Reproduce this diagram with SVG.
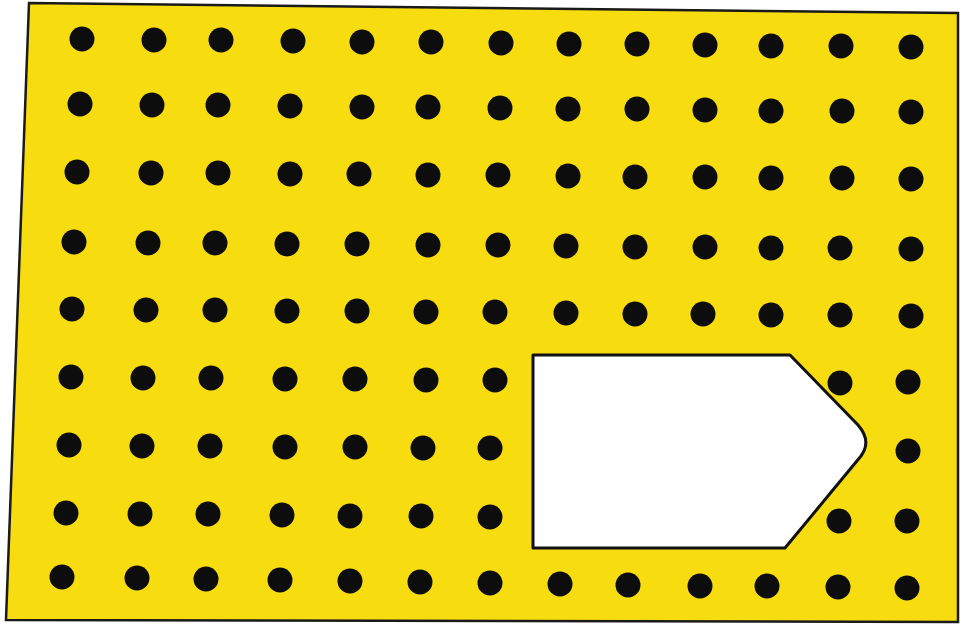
<svg xmlns="http://www.w3.org/2000/svg" width="961" height="625" viewBox="0 0 961 625">
<style>
.board{fill:#F7DD10;stroke:#1a1a1a;stroke-width:2.5}
.d{fill:#0d0d0d}
.cut{fill:#ffffff;stroke:#111;stroke-width:3;stroke-linejoin:round}
</style>
<rect width="961" height="625" fill="#ffffff"/>
<polygon class="board" points="29,3 958,13 958,622 6,620"/>
<g id="holes" class="d">
<circle cx="82" cy="39" r="12.5"/><circle cx="154" cy="40" r="12.5"/><circle cx="221" cy="40" r="12.5"/><circle cx="293" cy="41" r="12.5"/><circle cx="362" cy="42" r="12.5"/><circle cx="431" cy="42" r="12.5"/><circle cx="501" cy="43" r="12.5"/><circle cx="569" cy="44" r="12.5"/><circle cx="637" cy="44" r="12.5"/><circle cx="705" cy="45" r="12.5"/><circle cx="771" cy="46" r="12.5"/><circle cx="841" cy="46" r="12.5"/><circle cx="911" cy="47" r="12.5"/>
<circle cx="80" cy="104" r="12.5"/><circle cx="152" cy="105" r="12.5"/><circle cx="218" cy="105" r="12.5"/><circle cx="290" cy="106" r="12.5"/><circle cx="362" cy="107" r="12.5"/><circle cx="428" cy="107" r="12.5"/><circle cx="500" cy="108" r="12.5"/><circle cx="568" cy="109" r="12.5"/><circle cx="637" cy="109" r="12.5"/><circle cx="705" cy="110" r="12.5"/><circle cx="771" cy="111" r="12.5"/><circle cx="842" cy="111" r="12.5"/><circle cx="911" cy="112" r="12.5"/>
<circle cx="77" cy="172" r="12.5"/><circle cx="151" cy="173" r="12.5"/><circle cx="218" cy="173" r="12.5"/><circle cx="290" cy="174" r="12.5"/><circle cx="359" cy="174" r="12.5"/><circle cx="428" cy="175" r="12.5"/><circle cx="498" cy="175" r="12.5"/><circle cx="568" cy="176" r="12.5"/><circle cx="635" cy="177" r="12.5"/><circle cx="705" cy="177" r="12.5"/><circle cx="771" cy="178" r="12.5"/><circle cx="842" cy="178" r="12.5"/><circle cx="911" cy="179" r="12.5"/>
<circle cx="74" cy="242" r="12.5"/><circle cx="148" cy="243" r="12.5"/><circle cx="215" cy="243" r="12.5"/><circle cx="287" cy="244" r="12.5"/><circle cx="357" cy="244" r="12.5"/><circle cx="428" cy="245" r="12.5"/><circle cx="498" cy="245" r="12.5"/><circle cx="566" cy="246" r="12.5"/><circle cx="635" cy="247" r="12.5"/><circle cx="705" cy="247" r="12.5"/><circle cx="771" cy="248" r="12.5"/><circle cx="840" cy="248" r="12.5"/><circle cx="911" cy="249" r="12.5"/>
<circle cx="72" cy="309" r="12.5"/><circle cx="146" cy="310" r="12.5"/><circle cx="215" cy="310" r="12.5"/><circle cx="287" cy="311" r="12.5"/><circle cx="357" cy="311" r="12.5"/><circle cx="426" cy="312" r="12.5"/><circle cx="495" cy="312" r="12.5"/><circle cx="566" cy="313" r="12.5"/><circle cx="635" cy="314" r="12.5"/><circle cx="703" cy="314" r="12.5"/><circle cx="771" cy="315" r="12.5"/><circle cx="840" cy="315" r="12.5"/><circle cx="911" cy="316" r="12.5"/>
<circle cx="71" cy="377" r="12.5"/><circle cx="143" cy="378" r="12.5"/><circle cx="211" cy="378" r="12.5"/><circle cx="285" cy="379" r="12.5"/><circle cx="355" cy="379" r="12.5"/><circle cx="426" cy="380" r="12.5"/><circle cx="495" cy="380" r="12.5"/><circle cx="840" cy="383" r="12.5"/><circle cx="908" cy="382" r="12.5"/>
<circle cx="69" cy="445" r="12.5"/><circle cx="142" cy="446" r="12.5"/><circle cx="210" cy="446" r="12.5"/><circle cx="285" cy="447" r="12.5"/><circle cx="355" cy="447" r="12.5"/><circle cx="423" cy="448" r="12.5"/><circle cx="490" cy="448" r="12.5"/><circle cx="908" cy="451" r="12.5"/>
<circle cx="66" cy="513" r="12.5"/><circle cx="140" cy="514" r="12.5"/><circle cx="208" cy="514" r="12.5"/><circle cx="282" cy="515" r="12.5"/><circle cx="350" cy="516" r="12.5"/><circle cx="421" cy="516" r="12.5"/><circle cx="490" cy="517" r="12.5"/><circle cx="839" cy="521" r="12.5"/><circle cx="907" cy="521" r="12.5"/>
<circle cx="62" cy="577" r="12.5"/><circle cx="137" cy="578" r="12.5"/><circle cx="206" cy="579" r="12.5"/><circle cx="280" cy="580" r="12.5"/><circle cx="350" cy="581" r="12.5"/><circle cx="420" cy="582" r="12.5"/><circle cx="490" cy="583" r="12.5"/><circle cx="560" cy="584" r="12.5"/><circle cx="628" cy="585" r="12.5"/><circle cx="700" cy="586" r="12.5"/><circle cx="767" cy="586" r="12.5"/><circle cx="838" cy="587" r="12.5"/><circle cx="907" cy="588" r="12.5"/>
</g>
<path id="cutout" class="cut" d="M533,355 L790,355 L858,425 Q872,441 861,456 L785,548 L533,548 Z"/>
</svg>
